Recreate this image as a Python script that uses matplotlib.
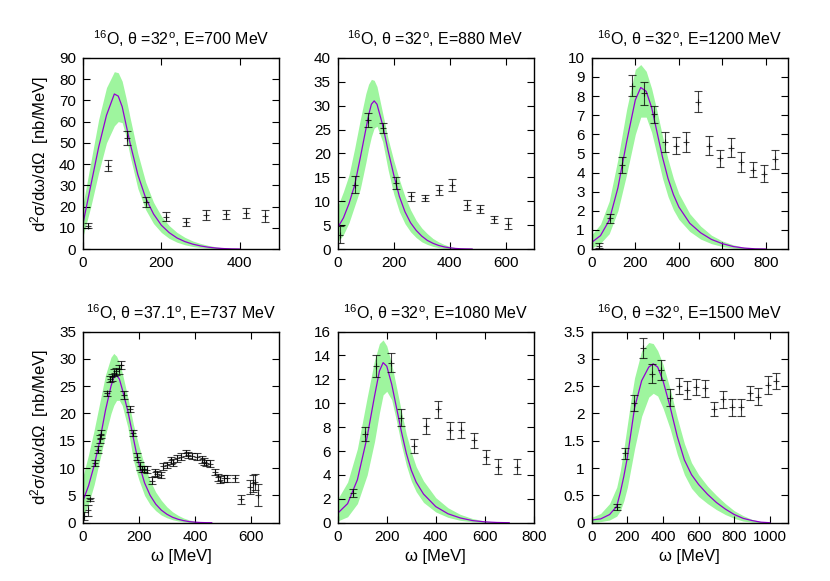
"""
Secciones eficaces inclusivas 16O: datos experimentales vs. modelo con banda
"""

import matplotlib
matplotlib.use('Agg')
import matplotlib.pyplot as plt
from matplotlib.ticker import MultipleLocator, FormatStrFormatter

plt.rcParams['font.family'] = ['Liberation Sans', 'DejaVu Sans']
plt.rcParams['mathtext.default'] = 'regular'
plt.rcParams['font.size'] = 11

# ---------------- Títulos ----------------
titulos = [
    '$^{16}$O, θ =32$^{o}$, E=700 MeV',
    '$^{16}$O, θ =32$^{o}$, E=880 MeV',
    '$^{16}$O, θ =32$^{o}$, E=1200 MeV',
    '$^{16}$O, θ =37.1$^{o}$, E=737 MeV',
    '$^{16}$O, θ =32$^{o}$, E=1080 MeV',
    '$^{16}$O, θ =32$^{o}$, E=1500 MeV',
]

# ---------------- Datos experimentales ----------------
x1 = [12, 63, 113, 162, 213, 264, 315, 365, 416, 464]
y1 = [11, 39.3, 52.5, 22.2, 15.2, 12.8, 16, 16.3, 17, 15.4]
e1 = [1.2, 2.7, 3.3, 2.3, 2.2, 1.8, 2.2, 2.3, 2.4, 2.8]

x2 = [9, 62, 109, 162, 209, 262, 310, 360, 408, 460, 507, 558, 608]
y2 = [3, 13.5, 27, 25.3, 13.8, 11, 10.7, 12.3, 13.4, 9.2, 8.4, 6.2, 5.3]
e2 = [1.8, 1.7, 1.5, 1.1, 1.2, 0.9, 0.7, 1.0, 1.2, 1.0, 0.9, 0.8, 1.2]

x3 = [34, 84, 138, 187, 238, 288, 337, 386, 435, 489, 540, 590, 639, 685, 739, 790, 843]
y3 = [0.17, 1.6, 4.4, 8.55, 8.15, 7.05, 5.6, 5.4, 5.6, 7.7, 5.4, 4.75, 5.3, 4.55, 4.15, 3.95, 4.7]
e3 = [0.12, 0.25, 0.4, 0.55, 0.6, 0.45, 0.5, 0.45, 0.5, 0.55, 0.5, 0.45, 0.5, 0.5, 0.4, 0.42, 0.5]

x4 = [5, 17, 26, 44, 52, 59, 66, 85, 95, 104,
      111, 119, 128, 135, 147, 168, 178, 192, 202, 210,
      218, 228, 246, 257, 266, 278, 287, 299, 313, 323,
      337, 352, 367, 376, 391, 408, 424, 432, 441, 453,
      471, 483, 491, 503, 515, 542, 566, 598, 607, 613,
      625]
y4 = [1.2, 2.3, 4.3, 10.9, 13.4, 15.3, 16.2, 23.7, 26.3, 26.6,
      27.5, 27.7, 28.1, 28.9, 23.4, 20.8, 16.4, 12.1, 10.4, 9.8,
      9.8, 9.7, 7.7, 9.2, 8.9, 8.7, 10.3, 10.6, 11.4, 11.0,
      11.8, 12.1, 12.8, 12.4, 12.2, 12.1, 11.6, 11.2, 10.9, 10.8,
      9.3, 8.3, 7.9, 8.1, 8.1, 8.1, 4.3, 6.6, 7.2, 7.5,
      5.1]
e4 = [0.7, 1.0, 0.3, 0.6, 0.7, 0.7, 0.7, 0.5, 0.6, 0.6,
      0.6, 0.7, 0.8, 0.7, 0.8, 0.6, 0.5, 0.6, 0.7, 0.6,
      0.6, 0.6, 0.6, 0.6, 0.6, 0.6, 0.6, 0.6, 0.6, 0.6,
      0.6, 0.6, 0.6, 0.6, 0.6, 0.6, 0.6, 0.6, 0.6, 0.6,
      0.6, 0.6, 0.6, 0.6, 0.6, 0.6, 0.8, 1.3, 1.5, 1.5,
      2.0]

x5 = [63, 111, 158, 216, 259, 311, 361, 408, 459, 505, 557, 607, 654, 730]
y5 = [2.5, 7.4, 13.1, 13.4, 8.8, 6.4, 8.1, 9.5, 7.75, 7.75, 6.9, 5.5, 4.7, 4.7]
e5 = [0.35, 0.6, 0.9, 0.8, 0.7, 0.6, 0.7, 0.7, 0.7, 0.65, 0.65, 0.55, 0.6, 0.65]

x6 = [140, 186, 239, 285, 339, 388, 438, 488, 537, 587, 638, 686, 736, 787, 839, 886, 936, 988, 1035]
y6 = [0.29, 1.27, 2.19, 3.2, 2.73, 2.8, 2.29, 2.5, 2.43, 2.49, 2.46, 2.08, 2.26, 2.11, 2.11, 2.37, 2.31, 2.52, 2.59]
e6 = [0.05, 0.1, 0.15, 0.18, 0.17, 0.18, 0.16, 0.15, 0.17, 0.15, 0.15, 0.13, 0.16, 0.16, 0.15, 0.13, 0.16, 0.16, 0.15]

# ---------------- Modelo: curva central y banda ----------------
g1 = [0, 20, 40, 60, 80, 90, 100, 110, 120, 140, 160, 180, 200, 220, 240, 260, 280, 300, 320, 340, 360, 380, 400]
c1 = [12, 30, 48, 63, 73, 72, 67, 58.5, 50, 35, 24, 16.5, 11.2, 7.7, 5.2, 3.5, 2.3, 1.45, 0.85, 0.45, 0.2, 0.06, 0]
u1 = [21, 41, 61, 76, 83.5, 83, 79, 71, 62, 45, 31.5, 22, 15.5, 11, 7.8, 5.5, 3.8, 2.6, 1.7, 1.0, 0.5, 0.2, 0.05]
l1 = [6, 20, 36, 50, 58, 60, 59.5, 53, 44, 28.5, 18.5, 12, 7.8, 5.0, 3.2, 2.0, 1.2, 0.7, 0.35, 0.15, 0.05, 0, 0]

g2 = [0, 20, 40, 60, 80, 100, 110, 120, 130, 140, 160, 180, 200, 220, 240, 260, 280, 300, 320, 340, 360, 380, 400, 420, 440, 460, 480]
c2 = [4.5, 6.5, 9.5, 13.3, 19, 25, 28, 30.3, 31, 30.3, 26, 20.5, 15.5, 11, 7.8, 5.5, 3.9, 2.7, 1.8, 1.2, 0.75, 0.45, 0.25, 0.12, 0.05, 0.02, 0]
u2 = [9, 12, 15.5, 21, 27, 32.5, 34.5, 35.5, 35.3, 34, 28.5, 23, 18.5, 14.5, 11, 8.2, 6, 4.4, 3.2, 2.2, 1.5, 0.95, 0.55, 0.3, 0.15, 0.06, 0.02]
l2 = [1.5, 3, 5.5, 9, 12.5, 18, 21, 23.5, 25.3, 25.7, 22.5, 16.5, 11.5, 7.8, 5.3, 3.6, 2.4, 1.5, 0.95, 0.55, 0.3, 0.15, 0.05, 0, 0, 0, 0]

g3 = [0, 40, 80, 120, 160, 200, 225, 250, 275, 300, 325, 350, 375, 400, 450, 500, 550, 600, 650, 700, 750, 800]
c3 = [0.35, 0.7, 1.5, 3.2, 5.6, 7.8, 8.45, 8.25, 7.4, 6.1, 4.8, 3.7, 2.85, 2.2, 1.35, 0.85, 0.5, 0.28, 0.13, 0.05, 0.01, 0]
u3 = [0.75, 1.3, 2.5, 4.7, 7.3, 9.4, 9.65, 9.3, 8.4, 7.2, 5.9, 4.7, 3.7, 2.9, 1.85, 1.2, 0.72, 0.42, 0.22, 0.09, 0.03, 0.01]
l3 = [0.05, 0.3, 0.8, 2.0, 3.9, 6.0, 6.9, 6.9, 6.1, 4.9, 3.7, 2.75, 2.05, 1.55, 0.92, 0.52, 0.28, 0.13, 0.05, 0.01, 0, 0]

g4 = [0, 20, 40, 60, 80, 100, 110, 120, 130, 140, 160, 170, 180, 190, 200, 220, 240, 260, 280, 300, 320, 340, 360, 380, 400, 420, 440, 460]
c4 = [4, 6.8, 10.5, 15, 20.5, 25, 26.6, 27, 26.3, 24.5, 20.5, 18, 15.5, 13, 10.8, 7.3, 5.0, 3.4, 2.3, 1.55, 1.0, 0.63, 0.38, 0.2, 0.1, 0.04, 0.01, 0]
u4 = [8.5, 12.5, 17, 22, 27, 30.3, 31, 30.5, 29.3, 27.5, 23, 20.5, 18, 16, 14, 10.5, 7.7, 5.6, 4.1, 2.9, 2.0, 1.35, 0.85, 0.5, 0.28, 0.12, 0.04, 0.01]
l4 = [1, 3.5, 7, 11.5, 16, 20, 21.5, 22.4, 22.4, 21.5, 17.5, 14.5, 11.5, 9.5, 7.8, 5.0, 3.3, 2.2, 1.4, 0.9, 0.55, 0.32, 0.17, 0.08, 0.03, 0, 0, 0]

g5 = [0, 40, 80, 120, 150, 170, 185, 200, 220, 240, 260, 280, 300, 320, 350, 400, 450, 500, 550, 600, 650, 700]
c5 = [0.8, 1.6, 3.6, 7.2, 10.6, 12.7, 13.4, 13.1, 11.6, 9.6, 7.6, 5.8, 4.4, 3.4, 2.4, 1.35, 0.75, 0.4, 0.18, 0.07, 0.02, 0]
u5 = [2.0, 3.4, 6.2, 10.5, 13.6, 15.0, 15.3, 14.8, 13.3, 11.3, 9.3, 7.4, 5.9, 4.7, 3.5, 2.1, 1.25, 0.7, 0.35, 0.15, 0.05, 0.01]
l5 = [0.15, 0.5, 1.6, 4.0, 6.8, 9.2, 10.7, 11.0, 10.3, 8.5, 6.5, 4.8, 3.5, 2.6, 1.7, 0.9, 0.45, 0.2, 0.08, 0.02, 0, 0]

g6 = [0, 50, 100, 140, 160, 180, 200, 220, 240, 280, 320, 345, 370, 400, 440, 480, 520, 560, 600, 650, 700, 750, 800, 850, 900, 950, 1000]
c6 = [0.05, 0.07, 0.15, 0.3, 0.55, 0.85, 1.2, 1.65, 2.1, 2.6, 2.85, 2.91, 2.85, 2.6, 2.12, 1.58, 1.15, 0.88, 0.7, 0.52, 0.37, 0.25, 0.15, 0.08, 0.04, 0.01, 0]
u6 = [0.1, 0.17, 0.35, 0.65, 0.95, 1.35, 1.8, 2.25, 2.65, 3.15, 3.3, 3.28, 3.15, 2.9, 2.45, 1.92, 1.45, 1.1, 0.88, 0.67, 0.5, 0.35, 0.22, 0.13, 0.06, 0.02, 0]
l6 = [0.01, 0.02, 0.05, 0.12, 0.22, 0.4, 0.65, 1.0, 1.35, 1.95, 2.3, 2.37, 2.32, 2.1, 1.72, 1.25, 0.88, 0.63, 0.48, 0.35, 0.24, 0.15, 0.08, 0.03, 0.01, 0, 0]

# límites de ejes y paso de ticks
xmax = [500, 700, 900, 700, 800, 1100]
ymax = [90, 40, 10, 35, 16, 3.5]
ypaso = [10, 5, 1, 5, 2, 0.5]

datos = [(x1, y1, e1), (x2, y2, e2), (x3, y3, e3),
         (x4, y4, e4), (x5, y5, e5), (x6, y6, e6)]
modelos = [(g1, c1, u1, l1), (g2, c2, u2, l2), (g3, c3, u3, l3),
           (g4, c4, u4, l4), (g5, c5, u5, l5), (g6, c6, u6, l6)]

fig = plt.figure(figsize=(8.3, 5.81), dpi=100)

izq = [0.100, 0.407, 0.713]
abajo = [0.5714, 0.1003]
ancho, alto = 0.236, 0.329

for i in range(6):
    fila, col = divmod(i, 3)
    ax = fig.add_axes([izq[col], abajo[fila], ancho, alto])

    g, c, u, l = modelos[i]
    ax.fill_between(g, l, u, color='#9ef59e', lw=0, zorder=1)
    ax.plot(g, c, color='#9400d3', lw=0.9, zorder=2)

    x, y, e = datos[i]
    ax.errorbar(x, y, yerr=e, fmt='+', color='black', ms=4, mew=0.8,
                elinewidth=0.8, capsize=3, capthick=0.8, alpha=0.75, zorder=3)

    ax.set_xlim(0, xmax[i])
    ax.set_ylim(0, ymax[i])
    ax.xaxis.set_major_locator(MultipleLocator(200))
    ax.yaxis.set_major_locator(MultipleLocator(ypaso[i]))
    ax.yaxis.set_major_formatter(FormatStrFormatter('%g'))
    ax.tick_params(direction='in', top=True, right=True, length=5,
                   width=0.8, labelsize=11, pad=5)
    for s in ax.spines.values():
        s.set_linewidth(1.0)

    ax.set_title(titulos[i], fontsize=11.5, pad=9)
    if col == 0:
        ax.set_ylabel('d$^{2}$σ/dω/dΩ  [nb/MeV]', fontsize=12, labelpad=6)
    if fila == 1:
        ax.set_xlabel('ω [MeV]', fontsize=12, labelpad=4)

fig.savefig('out.png', dpi=100)
